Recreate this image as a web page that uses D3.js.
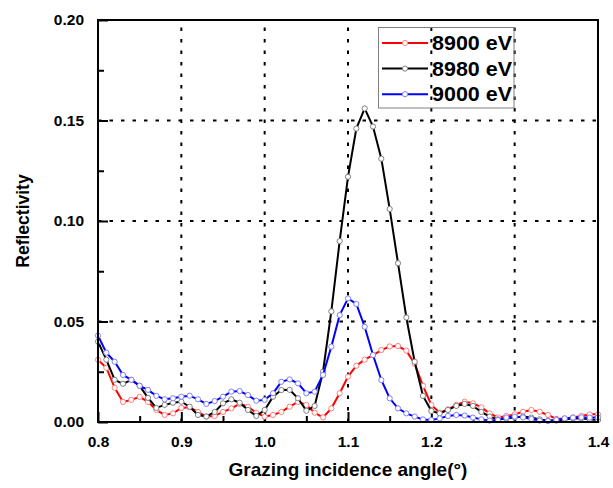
<!DOCTYPE html>
<html><head><meta charset="utf-8">
<script src="https://cdn.jsdelivr.net/npm/d3@7"></script>
<style>body{margin:0;background:#fff}svg{display:block}text{font-family:Arial,"Liberation Sans",sans-serif;font-weight:bold}</style>
</head><body><svg id="c" width="613" height="488"></svg>
<script>
const angles = [0.80,0.81,0.82,0.83,0.84,0.85,0.86,0.87,0.88,0.89,0.90,0.91,0.92,0.93,0.94,0.95,0.96,0.97,0.98,0.99,1.00,1.01,1.02,1.03,1.04,1.05,1.06,1.07,1.08,1.09,1.10,1.11,1.12,1.13,1.14,1.15,1.16,1.17,1.18,1.19,1.20,1.21,1.22,1.23,1.24,1.25,1.26,1.27,1.28,1.29,1.30,1.31,1.32,1.33,1.34,1.35,1.36,1.37,1.38,1.39,1.40];
const r8900 = [0.031,0.027,0.017,0.010,0.011,0.0125,0.010,0.006,0.0035,0.0043,0.007,0.0073,0.005,0.0027,0.003,0.005,0.0068,0.009,0.0076,0.0045,0.0027,0.0035,0.005,0.0076,0.010,0.0085,0.0046,0.0023,0.0068,0.0143,0.0226,0.028,0.031,0.0333,0.0358,0.0376,0.0378,0.0355,0.029,0.018,0.0085,0.0046,0.0063,0.0085,0.0101,0.0093,0.0073,0.0043,0.0023,0.003,0.0038,0.0051,0.006,0.0051,0.0035,0.0015,0.0018,0.0023,0.003,0.0038,0.0038];
const r8980 = [0.040,0.031,0.021,0.019,0.021,0.018,0.012,0.007,0.0085,0.0096,0.0101,0.0076,0.0035,0.0027,0.005,0.0093,0.0113,0.0096,0.006,0.003,0.006,0.0126,0.0159,0.016,0.0118,0.0056,0.008,0.025,0.055,0.090,0.122,0.146,0.156,0.147,0.131,0.106,0.079,0.052,0.030,0.013,0.0055,0.0043,0.006,0.008,0.009,0.008,0.005,0.0027,0.0013,0.0017,0.0023,0.0027,0.0022,0.0013,0.0007,0.0007,0.0013,0.0018,0.0018,0.0013,0.001];
const r9000 = [0.043,0.0345,0.030,0.0234,0.021,0.018,0.016,0.013,0.0113,0.0118,0.0126,0.0131,0.0113,0.009,0.0104,0.0126,0.0151,0.0154,0.0134,0.0106,0.011,0.0143,0.020,0.0212,0.0192,0.0143,0.0151,0.0234,0.0375,0.0532,0.0615,0.0587,0.0474,0.0333,0.0209,0.0118,0.0068,0.0043,0.0027,0.0013,0.001,0.0018,0.003,0.0035,0.0032,0.0022,0.0013,0.0007,0.001,0.0022,0.0027,0.0023,0.0015,0.0007,0.0005,0.001,0.0018,0.0022,0.0023,0.0022,0.0022];
const seriesNames = ["8900 eV","8980 eV","9000 eV"];
const xTicks = [0.8,0.9,1.0,1.1,1.2,1.3,1.4];
const yTicks = [0.00,0.05,0.10,0.15,0.20];

const lineColors = ["#ff0000","#000000","#0000ff"];
const markColors = ["#ff8080","#808080","#8080ff"];
const series = [r8900, r8980, r9000];

const svg = d3.select("#c");
const L=98,R=598,T=20,B=422;
const x = d3.scaleLinear().domain([0.8,1.4]).range([L,R]);
const y = d3.scaleLinear().domain([0,0.2]).range([B,T]);

// grid
const g = svg.append("g").attr("stroke","#000").attr("stroke-width",2).attr("stroke-dasharray","3.5,8");
g.selectAll("line.vx").data(xTicks.slice(1,-1)).join("line")
 .attr("x1",d=>x(d)).attr("x2",d=>x(d)).attr("y1",B).attr("y2",T);
g.selectAll("line.hy").data(yTicks.slice(1,-1)).join("line")
 .attr("y1",d=>y(d)).attr("y2",d=>y(d)).attr("x1",L).attr("x2",R);

// axes
const xAxis = d3.axisBottom(x).tickValues(xTicks).tickSize(-10).tickPadding(14).tickFormat(d3.format(".1f"));
const xMinor = d3.axisBottom(x).tickValues([0.85,0.95,1.05,1.15,1.25,1.35]).tickSize(-6).tickFormat("");
const yAxis = d3.axisLeft(y).tickValues(yTicks).tickSize(-10).tickPadding(14).tickFormat(d3.format(".2f"));
const yMinor = d3.axisLeft(y).tickValues([0.025,0.075,0.125,0.175]).tickSize(-6).tickFormat("");
function style(sel){sel.select(".domain").remove();sel.selectAll("line").attr("stroke","#000").attr("stroke-width",2);sel.selectAll("text").attr("font-size",15.5).attr("fill","#000").attr("font-family","Arial, 'Liberation Sans', sans-serif").attr("font-weight","bold");}
svg.append("g").attr("transform",`translate(0,${B})`).call(xAxis).call(style);
svg.append("g").attr("transform",`translate(0,${B})`).call(xMinor).call(style);
svg.append("g").attr("transform",`translate(${L},0)`).call(yAxis).call(style);
svg.append("g").attr("transform",`translate(${L},0)`).call(yMinor).call(style);

// series
const line = d3.line().x((d,i)=>x(angles[i])).y(d=>y(d));
series.forEach((s,k)=>{
  svg.append("path").datum(s).attr("d",line).attr("fill","none").attr("stroke",lineColors[k]).attr("stroke-width",2);
  svg.append("g").selectAll("circle").data(s).join("circle")
    .attr("cx",(d,i)=>x(angles[i])).attr("cy",d=>y(d)).attr("r",2.6)
    .attr("fill","#fff").attr("stroke",markColors[k]).attr("stroke-width",1);
});

// frame
svg.append("rect").attr("x",L).attr("y",T).attr("width",R-L).attr("height",B-T)
 .attr("fill","none").attr("stroke","#000").attr("stroke-width",2);

// legend
const lg = svg.append("g");
lg.append("rect").attr("x",378.5).attr("y",27.5).attr("width",135.5).attr("height",80.5)
 .attr("fill","none").attr("stroke","#808080").attr("stroke-width",1);
seriesNames.forEach((n,k)=>{
  const yy = 43 + k*25.6;
  lg.append("line").attr("x1",382).attr("x2",428).attr("y1",yy).attr("y2",yy).attr("stroke",lineColors[k]).attr("stroke-width",2);
  lg.append("circle").attr("cx",405).attr("cy",yy).attr("r",2.6).attr("fill","#fff").attr("stroke",markColors[k]);
  lg.append("text").attr("x",432).attr("y",yy+7).attr("font-size",20).attr("textLength",80).attr("lengthAdjust","spacingAndGlyphs").text(n);
});

// titles
svg.append("text").attr("transform",`translate(29,221) rotate(-90)`).attr("text-anchor","middle").attr("font-size",17.5).text("Reflectivity");
svg.append("text").attr("x",348).attr("y",476).attr("text-anchor","middle").attr("font-size",19).text("Grazing incidence angle(°)");
</script></body></html>
